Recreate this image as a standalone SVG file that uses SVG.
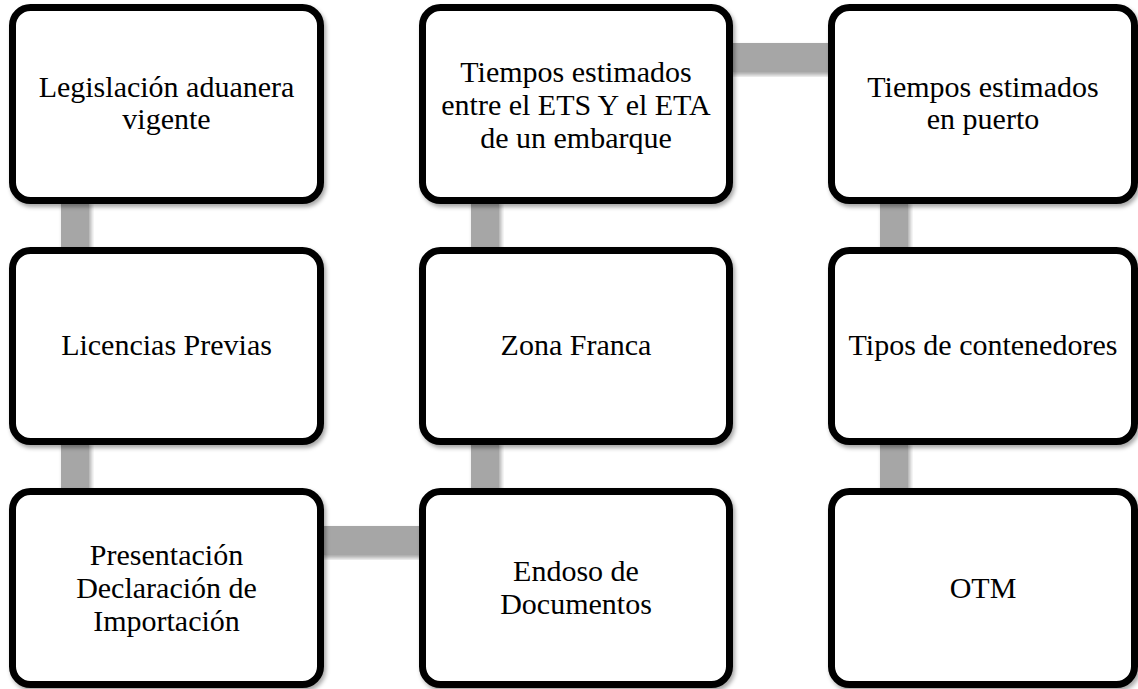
<svg xmlns="http://www.w3.org/2000/svg" width="1138" height="689" viewBox="0 0 1138 689">
<defs>
<filter id="sh" x="-10%" y="-10%" width="125%" height="125%">
<feDropShadow dx="2" dy="3" stdDeviation="2" flood-color="#000" flood-opacity="0.35"/>
</filter>
<style>
.box{fill:#fff;stroke:#000;stroke-width:7;filter:url(#sh)}
.bar{fill:#a6a6a6;filter:url(#sh)}
.t{font-size:30px;fill:#000;text-anchor:middle}
</style>
</defs>
<rect width="1138" height="689" fill="#fff"/>
<g id="connectors">
<rect class="bar" x="61" y="200" width="28" height="52"/>
<rect class="bar" x="61" y="441" width="28" height="52"/>
<rect class="bar" x="471" y="200" width="28" height="52"/>
<rect class="bar" x="471" y="441" width="28" height="52"/>
<rect class="bar" x="880" y="200" width="28" height="52"/>
<rect class="bar" x="880" y="441" width="28" height="52"/>
<rect class="bar" x="729" y="43" width="104" height="29"/>
<rect class="bar" x="320" y="526" width="104" height="29"/>
</g>
<g font-family="'Liberation Serif', 'DejaVu Serif', serif">
<g id="n1">
<rect class="box" x="12.5" y="7.5" width="308" height="193" rx="18"/>
<text class="t" x="166.5" y="97">Legislación aduanera</text>
<text class="t" x="166.5" y="129">vigente</text>
</g>
<g id="n2">
<rect class="box" x="12.5" y="250.5" width="308" height="191" rx="18"/>
<text class="t" x="166.5" y="355">Licencias Previas</text>
</g>
<g id="n3">
<rect class="box" x="12.5" y="491.5" width="308" height="193" rx="18"/>
<text class="t" x="166.5" y="565">Presentación</text>
<text class="t" x="166.5" y="598">Declaración de</text>
<text class="t" x="166.5" y="631">Importación</text>
</g>
<g id="n4">
<rect class="box" x="422.5" y="7.5" width="307" height="193" rx="18"/>
<text class="t" x="576" y="82">Tiempos estimados</text>
<text class="t" x="576" y="115">entre el ETS Y el ETA</text>
<text class="t" x="576" y="148">de un embarque</text>
</g>
<g id="n5">
<rect class="box" x="422.5" y="250.5" width="307" height="191" rx="18"/>
<text class="t" x="576" y="355">Zona Franca</text>
</g>
<g id="n6">
<rect class="box" x="422.5" y="491.5" width="307" height="193" rx="18"/>
<text class="t" x="576" y="581">Endoso de</text>
<text class="t" x="576" y="614">Documentos</text>
</g>
<g id="n7">
<rect class="box" x="831.5" y="7.5" width="303" height="193" rx="18"/>
<text class="t" x="983" y="97">Tiempos estimados</text>
<text class="t" x="983" y="129">en puerto</text>
</g>
<g id="n8">
<rect class="box" x="831.5" y="250.5" width="303" height="191" rx="18"/>
<text class="t" x="983" y="355">Tipos de contenedores</text>
</g>
<g id="n9">
<rect class="box" x="831.5" y="491.5" width="303" height="193" rx="18"/>
<text class="t" x="983" y="598">OTM</text>
</g>
</g>
</svg>
